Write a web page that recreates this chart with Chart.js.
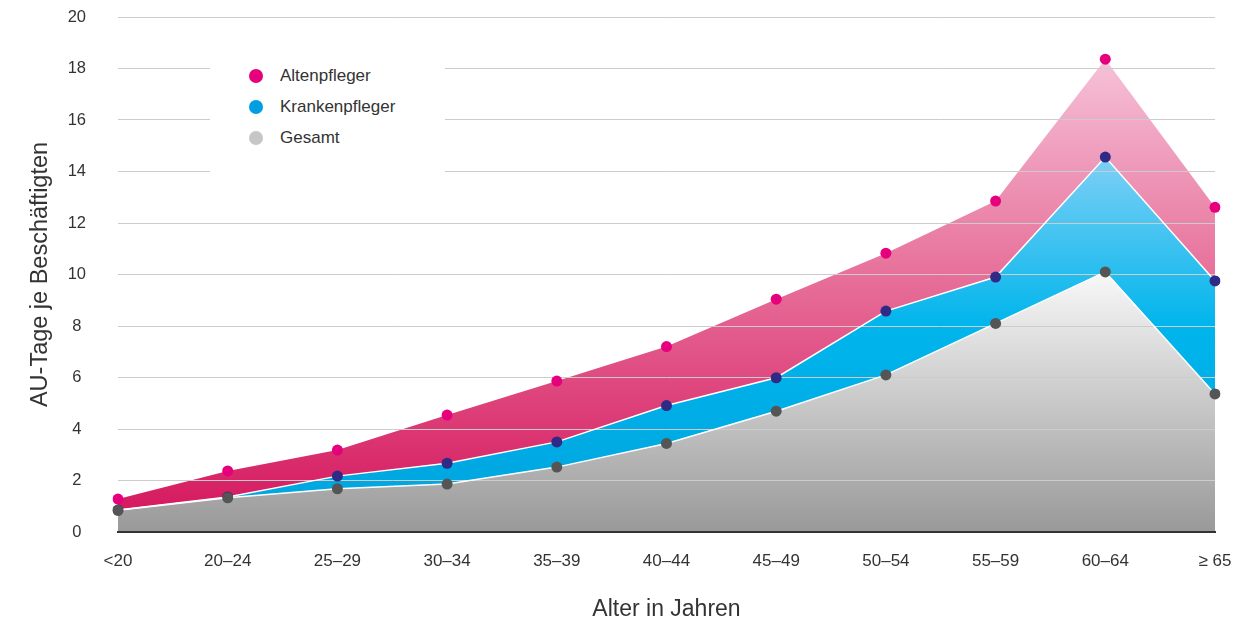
<!DOCTYPE html>
<html>
<head>
<meta charset="utf-8">
<script src="https://cdn.jsdelivr.net/npm/chart.js@4"></script>
<style>
  html, body { margin: 0; padding: 0; background: #fff; }
  #wrap { position: relative; width: 1255px; height: 623px; }
  #legend { position: absolute; left: 210px; top: 42px; width: 235px; height: 140px; background: #fff;
            font-family: "Liberation Sans", Arial, sans-serif; font-size: 17px; color: #333; }
  .item { position: absolute; left: 70px; height: 20px; line-height: 20px; }
  .dot { position: absolute; left: -31px; top: 3px; width: 14px; height: 14px; border-radius: 50%; }
  .item span.t { position: absolute; left: 0; white-space: nowrap; }
  canvas { display: block; }
</style>
</head>
<body>
<div id="wrap">
  <canvas id="c" width="1255" height="623"></canvas>
  <div id="legend"></div>
</div>
<script>
const categories = ["<20", "20–24", "25–29", "30–34", "35–39", "40–44", "45–49", "50–54", "55–59", "60–64", "≥ 65"];
const altenpfleger = [1.28, 2.37, 3.18, 4.54, 5.86, 7.20, 9.04, 10.83, 12.85, 18.36, 12.61];
const krankenpfleger = [0.85, 1.36, 2.17, 2.67, 3.50, 4.91, 5.99, 8.58, 9.90, 14.56, 9.75];
const gesamt = [0.84, 1.33, 1.68, 1.86, 2.52, 3.44, 4.69, 6.10, 8.10, 10.10, 5.36];
const yTicks = [0, 2, 4, 6, 8, 10, 12, 14, 16, 18, 20];
const seriesNames = ["Altenpfleger", "Krankenpfleger", "Gesamt"];
const legendColors = ["#e6007e", "#009fe3", "#c6c6c6"];

const FONT = "'Liberation Sans', Arial, sans-serif";

function vGrad(context, stops) {
  const chart = context.chart;
  const a = chart.chartArea;
  if (!a) return stops[stops.length - 1][1];
  const g = chart.ctx.createLinearGradient(0, a.top, 0, a.bottom);
  stops.forEach(s => g.addColorStop(s[0], s[1]));
  return g;
}

// legend (HTML)
const lg = document.getElementById('legend');
seriesNames.forEach((n, i) => {
  const d = document.createElement('div');
  d.className = 'item';
  d.style.top = (24 + i * 31) + 'px';
  d.innerHTML = '<div class="dot" style="background:' + legendColors[i] + '"></div><span class="t">' + n + '</span>';
  lg.appendChild(d);
});

new Chart(document.getElementById('c'), {
  type: 'line',
  data: {
    labels: categories,
    datasets: [
      {
        label: seriesNames[2], data: gesamt, fill: 'origin',
        backgroundColor: c => vGrad(c, [[0, '#ffffff'], [0.48, '#fbfbfb'], [1, '#999999']]),
        borderColor: '#ffffff', borderWidth: 1.5,
        pointRadius: 5.5, pointBackgroundColor: '#555555', pointBorderWidth: 0, pointHoverRadius: 5.5
      },
      {
        label: seriesNames[1], data: krankenpfleger, fill: 'origin',
        backgroundColor: c => vGrad(c, [[0, '#9fdcf8'], [0.27, '#7fd0f5'], [0.6, '#00b5ec'], [1, '#00a3de']]),
        borderColor: '#ffffff', borderWidth: 1.5,
        pointRadius: 5.5, pointBackgroundColor: '#2e2a85', pointBorderWidth: 0, pointHoverRadius: 5.5
      },
      {
        label: seriesNames[0], data: altenpfleger, fill: 'origin',
        backgroundColor: c => vGrad(c, [[0, '#f8cade'], [0.08, '#f6c2d8'], [0.5, '#e7709a'], [1, '#d4125a']]),
        borderColor: 'rgba(0,0,0,0)', borderWidth: 0,
        pointRadius: 5.5, pointBackgroundColor: '#e6007e', pointBorderWidth: 0, pointHoverRadius: 5.5
      }
    ]
  },
  options: {
    responsive: false,
    animation: false,
    layout: { padding: { left: 0, right: 40, top: 17, bottom: 0 } },
    plugins: {
      legend: { display: false },
      tooltip: { enabled: false },
      filler: { drawTime: 'beforeDraw' }
    },
    elements: { line: { tension: 0 } },
    scales: {
      x: {
        offset: false,
        grid: { display: false, drawTicks: false },
        border: { display: true, color: '#333333', width: 2 },
        ticks: { padding: 19, color: '#333333', font: { family: FONT, size: 17 }, maxRotation: 0, autoSkip: false },
        title: { display: true, text: 'Alter in Jahren', color: '#333333', font: { family: FONT, size: 23 }, padding: { top: 0, bottom: 0 } },
        afterFit: s => { s.height = 91; s.paddingLeft = 0; s.paddingRight = 0; }
      },
      y: {
        min: 0, max: 20,
        afterBuildTicks: s => { s.ticks = yTicks.map(v => ({ value: v })); },
        grid: { color: '#cccccc', lineWidth: 1, drawTicks: false },
        border: { display: false },
        ticks: { padding: 32, crossAlign: 'center', color: '#333333', font: { family: FONT, size: 16.5 } },
        title: { display: true, text: 'AU-Tage je Beschäftigten', color: '#333333', font: { family: FONT, size: 23.5 }, padding: { top: 26, bottom: 0 } },
        afterFit: s => { s.width = 118; s.paddingTop = 0; s.paddingBottom = 0; }
      }
    }
  }
});
</script>
</body>
</html>
